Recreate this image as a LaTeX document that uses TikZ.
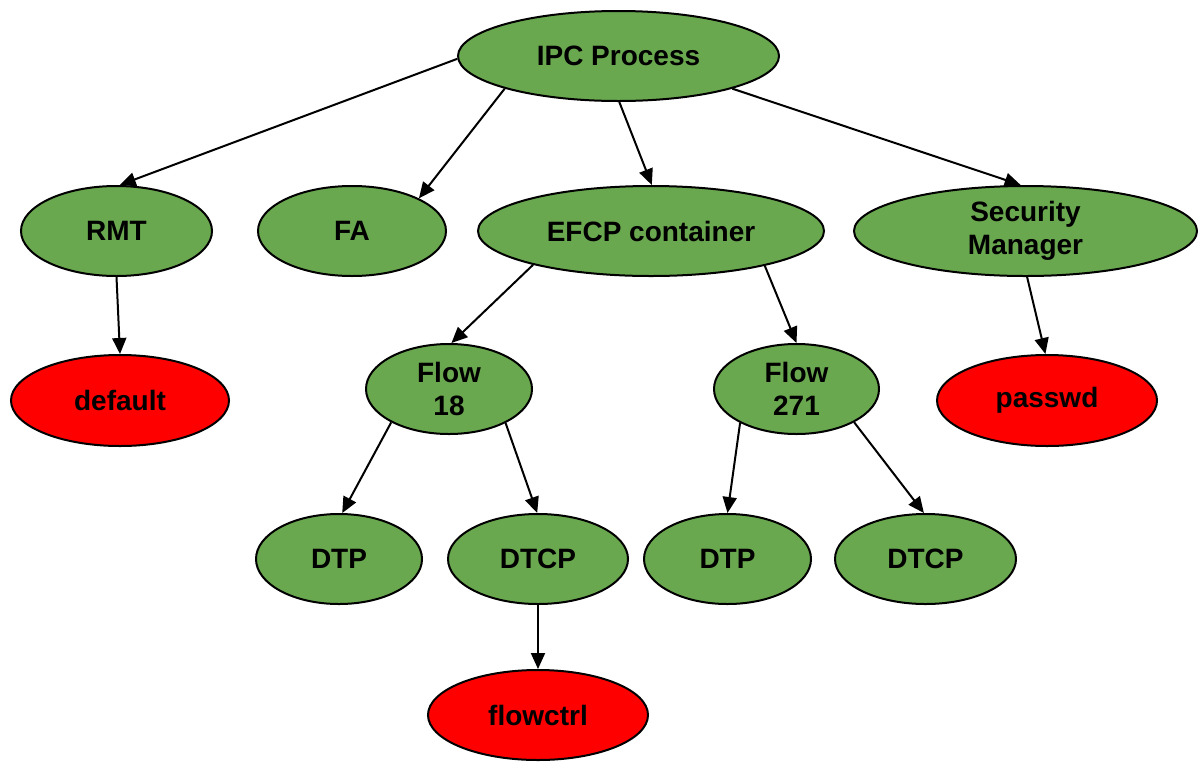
\documentclass[tikz,border=0pt]{standalone}
\usepackage{fontspec}
\setmainfont{Liberation Sans}
\usetikzlibrary{shapes.geometric,arrows.meta}
\definecolor{gfill}{HTML}{6AA84F}
\definecolor{rfill}{HTML}{FF0000}
\tikzset{
  base/.style={ellipse, draw=black, line width=2pt, inner sep=0pt, align=center,
    font=\fontsize{28}{33}\selectfont\bfseries, text=black},
  gnode/.style={base, fill=gfill},
  rnode/.style={base, fill=rfill},
  conn/.style={line width=2pt, -{Triangle[length=16pt,width=14pt]}}
}
\begin{document}
\begin{tikzpicture}[x=1pt,y=-1pt]
\useasboundingbox (0,0) rectangle (1198,761);
\node[gnode, minimum width=321pt, minimum height=90pt] (ipc) at (618.5,56) {IPC Process};
\node[gnode, minimum width=191pt, minimum height=90pt] (rmt) at (116.5,231) {RMT};
\node[gnode, minimum width=188pt, minimum height=90pt] (fa) at (352,231) {FA};
\node[gnode, minimum width=346pt, minimum height=90pt] (efcp) at (651,231) {EFCP container};
\node[gnode, minimum width=343pt, minimum height=90pt] (sm) at (1025.5,231) {Security\\Manager};
\node[rnode, minimum width=218pt, minimum height=91pt] (default) at (120,400.5) {default};
\node[gnode, minimum width=166pt, minimum height=90pt] (f18) at (449,389) {Flow\\18};
\node[gnode, minimum width=165pt, minimum height=90pt] (f271) at (796.5,389) {Flow\\271};
\node[rnode, minimum width=220pt, minimum height=91pt] (passwd) at (1047,400.5) {passwd};
\node[gnode, minimum width=166pt, minimum height=90pt] (dtpa) at (339,559) {DTP};
\node[gnode, minimum width=180pt, minimum height=90pt] (dtcpa) at (538,559) {DTCP};
\node[gnode, minimum width=167pt, minimum height=90pt] (dtpb) at (727.5,559) {DTP};
\node[gnode, minimum width=181pt, minimum height=90pt] (dtcpb) at (925.5,559) {DTCP};
\node[rnode, minimum width=220pt, minimum height=90pt] (flowctrl) at (538,715) {flowctrl};

\draw[conn] (ipc.181.5) -- (rmt.86);
\draw[conn] (ipc.196.4) -- (fa.26.5);
\draw[conn] (ipc.271) -- (efcp.89);
\draw[conn] (ipc.344) -- (sm.96.5);
\draw[conn] (rmt.270) -- (default.90);
\draw[conn] (efcp.196.2) -- (f18.87);
\draw[conn] (efcp.343.8) -- (f271.90);
\draw[conn] (sm.272) -- (passwd.92.4);
\draw[conn] (f18.210.5) -- (dtpa.86);
\draw[conn] (f18.329.3) -- (dtcpa.91);
\draw[conn] (f271.211.2) -- (dtpb.90);
\draw[conn] (f271.330) -- (dtcpb.92);
\draw[conn] (dtcpa.270) -- (flowctrl.90);
\end{tikzpicture}
\end{document}
